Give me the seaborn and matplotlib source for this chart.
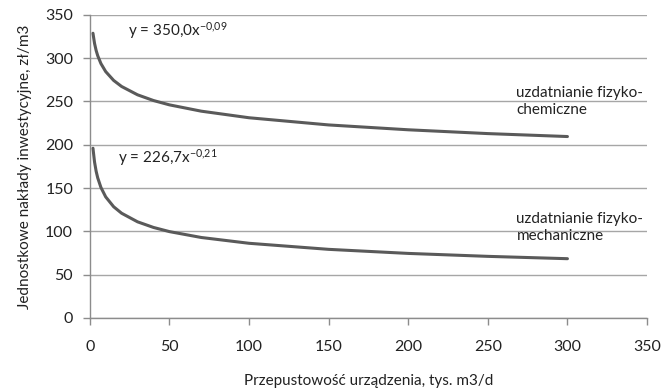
import numpy as np
import pandas as pd
import matplotlib
matplotlib.use('Agg')
import matplotlib.pyplot as plt
import seaborn as sns

# values
x_vals = [2, 3, 4, 5, 7, 10, 15, 20, 30, 40, 50, 70, 100, 150, 200, 250, 300]
chem_vals = [328.8, 317.0, 308.9, 302.8, 293.8, 284.5, 274.3, 267.3, 257.7, 251.1,
             246.1, 238.8, 231.2, 222.9, 217.3, 212.9, 209.5]
mech_vals = [196.0, 180.0, 169.4, 161.7, 150.7, 139.8, 128.4, 120.9, 111.0, 104.5,
             99.7, 92.9, 86.2, 79.2, 74.5, 71.1, 68.4]

x_ticks = [0, 50, 100, 150, 200, 250, 300, 350]
y_ticks = [0, 50, 100, 150, 200, 250, 300, 350]

sns.set_style('white')
plt.rcParams['font.family'] = ['Lato', 'DejaVu Sans']
plt.rcParams['mathtext.default'] = 'regular'

df = pd.DataFrame({'x': x_vals + x_vals,
                   'y': chem_vals + mech_vals,
                   'series': ['chem'] * len(x_vals) + ['mech'] * len(x_vals)})

fig = plt.figure(figsize=(6.65, 3.92), dpi=100)
ax = fig.add_axes([0.135, 0.189, 0.838, 0.773])

line_col = '#5a5a5a'
sns.lineplot(data=df, x='x', y='y', units='series', estimator=None,
             color=line_col, linewidth=2.2, ax=ax, legend=False)

ax.set_xlim(0, 350)
ax.set_ylim(0, 350)
ax.set_xticks(x_ticks)
ax.set_yticks(y_ticks)
ax.yaxis.grid(True, color='#a6a6a6', linewidth=1)
ax.set_axisbelow(True)
for s in ['top', 'right']:
    ax.spines[s].set_visible(False)
for s in ['left', 'bottom']:
    ax.spines[s].set_color('#8c8c8c')
    ax.spines[s].set_linewidth(1)
ax.tick_params(axis='both', which='major', labelsize=11.5, colors='#8c8c8c',
               labelcolor='#222222', length=5, width=1, direction='out')
ax.tick_params(axis='x', pad=11)
ax.tick_params(axis='y', pad=7)
ax.tick_params(left=True, bottom=True)

ax.set_xlabel('Przepustowość urządzenia, tys. m3/d', fontsize=11, color='#222222', labelpad=14)
ax.set_ylabel('Jednostkowe nakłady inwestycyjne, zł/m3', fontsize=11, color='#222222', labelpad=9)

ax.text(24, 332, r'y = 350,0x$^{-0{,}09}$', fontsize=11, color='#222222', va='center', ha='left')
ax.text(18, 185, r'y = 226,7x$^{-0{,}21}$', fontsize=11, color='#222222', va='center', ha='left')
ax.text(268, 250, 'uzdatnianie fizyko-\nchemiczne', fontsize=11, color='#222222',
        va='center', ha='left', linespacing=1.25)
ax.text(268, 104, 'uzdatnianie fizyko-\nmechaniczne', fontsize=11, color='#222222',
        va='center', ha='left', linespacing=1.25)

fig.savefig('out.png', dpi=100)
